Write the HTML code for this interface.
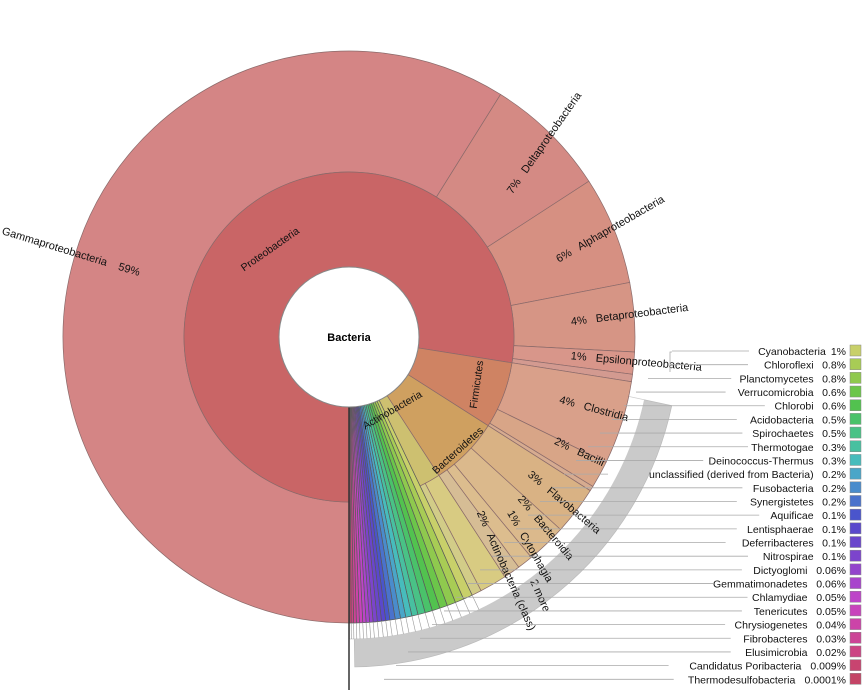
<!DOCTYPE html>
<html><head><meta charset="utf-8"><style>
html,body{margin:0;padding:0;background:#fff;}
svg{display:block;font-family:"Liberation Sans",Arial,sans-serif;}
text{white-space:pre;}
</style></head><body>
<svg id="s" width="865" height="695" viewBox="0 0 865 695" xmlns="http://www.w3.org/2000/svg"></svg>
<script>
const S=document.getElementById('s');const NS='http://www.w3.org/2000/svg';
const cx=349,cy=337,R0=70,R1=165,R2=286;
function el(t,a,txt){const e=document.createElementNS(NS,t);for(const k in a)e.setAttribute(k,a[k]);if(txt!=null)e.textContent=txt;S.appendChild(e);return e;}
function pt(r,a){const t=a*Math.PI/180;return [cx+r*Math.cos(t),cy+r*Math.sin(t)];}
function arc(r1,r2,a1,a2,fill,stroke){
 const l=(a2-a1)>180?1:0;const p1=pt(r2,a1),p2=pt(r2,a2),p3=pt(r1,a2),p4=pt(r1,a1);
 el('path',{d:`M${p1}A${r2},${r2} 0 ${l} 1 ${p2}L${p3}A${r1},${r1} 0 ${l} 0 ${p4}Z`,fill:fill,stroke:stroke||'#8a6a6a','stroke-width':0.7});
}
arc(302,330,12,89,'#cacaca','#bbb');
arc(286,302,12,90,'#fff','#ccc');
arc(R1,R2,90,302,'#d48585');
arc(R1,R2,302,327,'#d48a84');
arc(R1,R2,327,349,'#d69082');
arc(R1,R2,349,363,'#d69585');
arc(R1,R2,363,367.5,'#d8968a');
arc(R1,R2,367.5,369,'#d39a90');
arc(R1,R2,9,26,'#d9a08a');
arc(R1,R2,26,31.5,'#d8a587');
arc(R1,R2,31.5,32.5,'#d6ab90');
arc(R1,R2,32.5,42.3,'#d9b284');
arc(R1,R2,42.3,50.4,'#dbb98c');
arc(R1,R2,50.4,53.6,'#dcbd8e');
arc(R1,R2,53.6,57,'#d6bd95');
arc(R1,R2,57,62.5,'#d8cb82');
arc(R1,R2,62.5,64.5,'#d2cc88');
arc(R0,R1,90,369,'#c96566');
arc(R0,R1,9,32.5,'#cf8363');
arc(R0,R1,32.5,57,'#cfa060');
arc(R0,R1,57,64.5,'#cdc070');
const ph=[1,0.8,0.8,0.6,0.6,0.5,0.5,0.3,0.3,0.2,0.2,0.2,0.1,0.1,0.1,0.1,0.06,0.06,0.05,0.05,0.04,0.03,0.02,0.009,0.0001];
const cols=['#c8d06a','#a8cc55','#8fc94e','#6cc64a','#52c24f','#4ac26a','#49c286','#48c0a0','#47bcbc','#4aa6c8','#4a8ccc','#4a72cc','#4a55cc','#5a48cc','#6a46cc','#7c44cc','#9344cc','#a844cc','#bd44c8','#c844bc','#cc44a8','#cc4496','#cc4484','#c84470','#c44466'];
const wts=ph.map(v=>Math.pow(v,0.35));const tot=wts.reduce((a,b)=>a+b,0);let a=64.5;
wts.forEach((v,i)=>{const w=v/tot*25.5;arc(R0,R2,a,a+w,cols[i],'#5a5a5a');
 const p=pt(R2,a),q=pt(302,a);el('line',{x1:p[0],y1:p[1],x2:q[0],y2:q[1],stroke:'#999','stroke-width':0.6});a+=w;});
el('line',{x1:349,y1:407,x2:349,y2:690,stroke:'#333','stroke-width':1.5});
el('circle',{cx:cx,cy:cy,r:R0,fill:'#fff',stroke:'#888','stroke-width':1});
el('text',{x:cx,y:cy+4,'text-anchor':'middle','font-size':11,'font-weight':'bold'},'Bacteria');
function lab(x,y,rot,t,fs){el('text',{x:0,y:0,'font-size':fs||10.5,'text-anchor':'middle',transform:`translate(${x},${y}) rotate(${rot})`,fill:'#111'},t);}
lab(272,252,-35,'Proteobacteria');
lab(70,255,17,'Gammaproteobacteria    59%',11);
lab(547,145,-55,'7%   Deltaproteobacteria',11);
lab(612,232,-30,'6%   Alphaproteobacteria',11);
lab(630,318,-7,'4%   Betaproteobacteria',11);
lab(636,365,5,'1%   Epsilonproteobacteria',11);
lab(480,385,-82,'Firmicutes');
lab(593,412,15,'4%   Clostridia',11);
lab(578,455,25,'2%   Bacilli',11);
lab(460,453,-42,'Bacteroidetes');
lab(562,505,40,'3%   Flavobacteria',11);
lab(543,530,50,'2%   Bacteroidia',11);
lab(527,548,60,'1%   Cytophagia',11);
lab(537,597,66,'2 more',11);
lab(503,572,66,'2%   Actinobacteria (class)',11);
lab(394,413,-30,'Actinobacteria');
const names=['Cyanobacteria','Chloroflexi','Planctomycetes','Verrucomicrobia','Chlorobi','Acidobacteria','Spirochaetes','Thermotogae','Deinococcus-Thermus','unclassified (derived from Bacteria)','Fusobacteria','Synergistetes','Aquificae','Lentisphaerae','Deferribacteres','Nitrospirae','Dictyoglomi','Gemmatimonadetes','Chlamydiae','Tenericutes','Chrysiogenetes','Fibrobacteres','Elusimicrobia','Candidatus Poribacteria','Thermodesulfobacteria'];
const pcts=['1%','0.8%','0.8%','0.6%','0.6%','0.5%','0.5%','0.3%','0.3%','0.2%','0.2%','0.2%','0.1%','0.1%','0.1%','0.1%','0.06%','0.06%','0.05%','0.05%','0.04%','0.03%','0.02%','0.009%','0.0001%'];
el('polyline',{points:'672,352 670,352 670,372',fill:'none',stroke:'#aaa','stroke-width':0.8});
names.forEach((n,i)=>{const y=351+i*13.68;
 const pw=pcts[i].length*6.1;const tx=846-pw-8;
 el('text',{x:tx,y:y+4,'text-anchor':'end','font-size':10.5,fill:'#111'},n);
 const tw=n.length*5.6;
 const x0=i<2?672:Math.max(672-i*12,352);
 el('line',{x1:x0,y1:y,x2:tx-tw-4,y2:y,stroke:'#aaa','stroke-width':0.8});
 el('text',{x:846,y:y+4,'text-anchor':'end','font-size':10.5,fill:'#111'},pcts[i]);
 el('rect',{x:850,y:y-6,width:11,height:11,fill:cols[i],stroke:'#888','stroke-width':0.5});
});
</script>
</body></html>
